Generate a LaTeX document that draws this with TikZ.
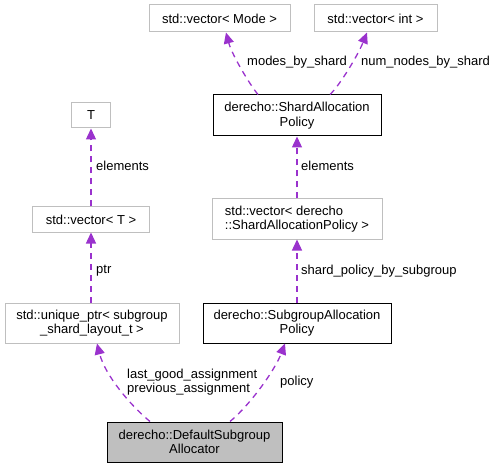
\documentclass[tikz,border=0pt]{standalone}
\usepackage{fontspec}
\setmainfont{Liberation Sans}
\usepackage{xcolor}
\usetikzlibrary{arrows.meta,positioning}
\definecolor{edgepurple}{HTML}{9A32CD}
\definecolor{boxgrey}{HTML}{BFBFBF}

\begin{document}
\begin{tikzpicture}[
    x=1pt, y=-1pt,
    font=\fontsize{13}{14.5}\selectfont,
    >={Triangle[length=11pt,width=10pt]},
    ext/.style={draw=boxgrey, line width=1pt, fill=white, inner sep=0pt, align=center},
    cls/.style={draw=black, line width=1pt, fill=white, inner sep=0pt, align=center},
    self/.style={draw=black, line width=1pt, fill=boxgrey, inner sep=0pt, align=center},
    uses/.style={draw=edgepurple, line width=1.3pt, dash pattern=on 6pt off 5pt},
    lbl/.style={anchor=west, inner sep=0pt, align=left}
]
\useasboundingbox (0,0) rectangle (493,468);

\node[ext, minimum width=141, minimum height=27] (vecmode) at (219.5,18.5) {std::vector< Mode >};
\node[ext, minimum width=123, minimum height=27] (vecint) at (375.5,18.5) {std::vector< int >};
\node[cls, minimum width=168, minimum height=41] (shard) at (297,115.5) {derecho::ShardAllocation\\Policy};

\node[ext, minimum width=39, minimum height=25] (tnode) at (91,115.5) {T};
\node[ext, minimum width=117, minimum height=25] (vect) at (91,219.5) {std::vector< T >};
\node[ext, minimum width=170, minimum height=40, align=left] (vecshard) at (297,219) {std::vector< derecho\\::ShardAllocationPolicy >};

\node[ext, minimum width=174, minimum height=40] (uptr) at (92,323) {std::unique\_ptr< subgroup\\\_shard\_layout\_t >};
\node[cls, minimum width=188, minimum height=40] (suballoc) at (297,323) {derecho::SubgroupAllocation\\Policy};

\node[self, minimum width=175, minimum height=40] (dflt) at (194.5,442) {derecho::DefaultSubgroup\\Allocator};

\draw[->, uses] ([xshift=-39pt]shard.north) .. controls (250,85) and (232,55) .. ([xshift=6.5pt]vecmode.south);
\draw[->, uses] ([xshift=33pt]shard.north) .. controls (340,85) and (358,55) .. ([xshift=-8.5pt]vecint.south);
\draw[->, uses] (vecshard.north) -- (shard.south);
\draw[->, uses] (suballoc.north) -- (vecshard.south);
\draw[->, uses] (vect.north) -- (tnode.south);
\draw[->, uses] (uptr.north -| vect.south) -- (vect.south);
\draw[->, uses] ([xshift=-44.5pt]dflt.north) .. controls (130,405) and (105,375) .. ([xshift=5pt]uptr.south);
\draw[->, uses] ([xshift=35.5pt]dflt.north) .. controls (250,405) and (275,370) .. ([xshift=-12pt]suballoc.south);

\node[lbl] (lmodes) at (247,62) {modes\_by\_shard};
\node[lbl] (lnum) at (361,62) {num\_nodes\_by\_shard};
\node[lbl] (lelemshard) at (301,166) {elements};
\node[lbl] (lelemt) at (96,166) {elements};
\node[lbl] (lptr) at (96,271) {ptr};
\node[lbl] (lpolicyby) at (301,271) {shard\_policy\_by\_subgroup};
\node[lbl] (lassign) at (127,382) {last\_good\_assignment\\previous\_assignment};
\node[lbl] (lpolicy) at (280,382) {policy};
\end{tikzpicture}
\end{document}
